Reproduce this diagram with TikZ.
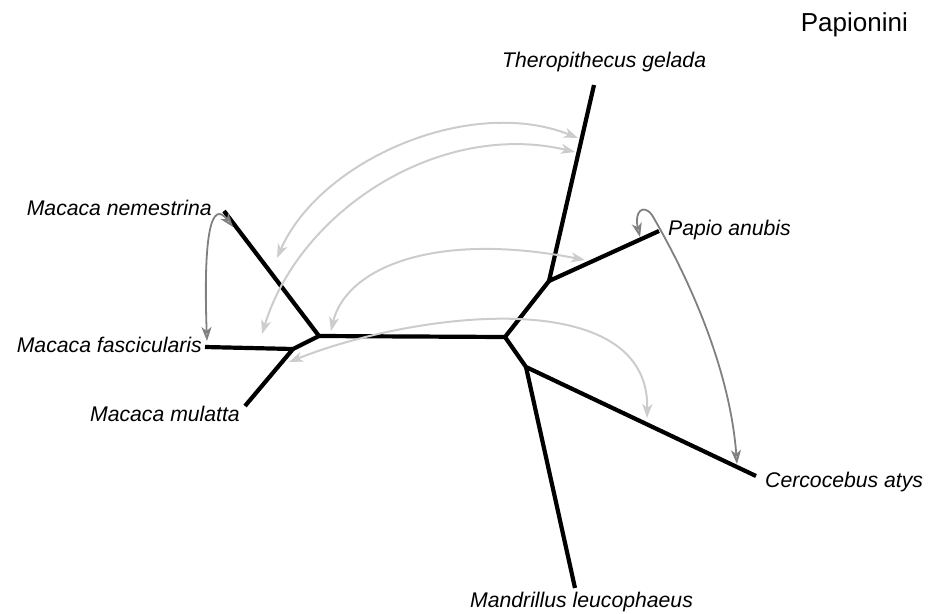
\documentclass[tikz,border=0pt]{standalone}
\usepackage{fontspec}
\setmainfont{Liberation Sans}
\usetikzlibrary{arrows.meta}
\begin{document}
\begin{tikzpicture}[x=1pt,y=-1pt,
  branch/.style={line width=4.2pt,black,line cap=butt,line join=round},
  lbl/.style={inner sep=0pt,font=\fontsize{21.2}{25}\selectfont\itshape},
  ttl/.style={inner sep=0pt,font=\fontsize{26}{30}\selectfont},
  lightarc/.style={line width=2pt,draw=black!20,fill=none,
    {Stealth[length=14pt,width=10pt,inset=4pt,fill=black!12]}-{Stealth[length=14pt,width=10pt,inset=4pt,fill=black!12]}},
  darkarc/.style={line width=1.8pt,draw=black!50,fill=none,
    {Stealth[length=14pt,width=10pt,inset=4pt,fill=black!30]}-{Stealth[length=14pt,width=10pt,inset=4pt,fill=black!30]}}
]
\useasboundingbox (0,0) rectangle (928,613);
% tree nodes
\coordinate (T) at (594,85);
\coordinate (TI) at (549,281);
\coordinate (P) at (659,231);
\coordinate (RU) at (505,337);
\coordinate (RL) at (526,367);
\coordinate (C) at (756,476);
\coordinate (M) at (575,588);
\coordinate (L) at (319,336);
\coordinate (N) at (224,211);
\coordinate (LL) at (293,349);
\coordinate (F) at (205,347);
\coordinate (MU) at (245,406);
% branches
\draw[branch] (T) -- (TI) -- (P);
\draw[branch] (TI) -- (RU) -- (L) -- (N);
\draw[branch] (RU) -- (RL) -- (C);
\draw[branch] (RL) -- (M);
\draw[branch] (L) -- (LL) -- (F);
\draw[branch] (LL) -- (MU);
% labels
\node[ttl,anchor=base east] (title) at (908,31) {Papionini};
\node[lbl,anchor=base west] (lT) at (502,67) {Theropithecus gelada};
\node[lbl,anchor=base west] (lM) at (470,607) {Mandrillus leucophaeus};
\node[lbl,anchor=base east] (lN) at (212,215) {Macaca nemestrina};
\node[lbl,anchor=base west] (lP) at (668,235) {Papio anubis};
\node[lbl,anchor=base east] (lF) at (202,352) {Macaca fascicularis};
\node[lbl,anchor=base east] (lMU) at (240,421) {Macaca mulatta};
\node[lbl,anchor=base west] (lC) at (765,487) {Cercocebus atys};
% arc end points
\coordinate (a1) at (277,258); \coordinate (a2) at (578,138);
\coordinate (b1) at (262,334); \coordinate (b2) at (575,152);
\coordinate (c1) at (331,331); \coordinate (c2) at (585,260);
\coordinate (d1) at (289,362); \coordinate (d2) at (647,418);
\coordinate (e1) at (233,227); \coordinate (e2) at (207,341);
\coordinate (f1) at (640,237); \coordinate (f2) at (737,464);
% arcs
\draw[lightarc] (a1) .. controls (320,160) and (470,95) .. (a2);
\draw[lightarc] (b1) .. controls (300,210) and (440,120) .. (b2);
\draw[lightarc] (c1) .. controls (345,270) and (430,230) .. (c2);
\draw[lightarc] (d1) .. controls (420,310) and (650,285) .. (d2);
\draw[darkarc] (e2) .. controls (203,230) and (212,200) .. (e1);
\draw[darkarc] (f1) .. controls (634,212) and (643,203) .. (652,215) .. controls (690,280) and (730,370) .. (f2);
\end{tikzpicture}
\end{document}
